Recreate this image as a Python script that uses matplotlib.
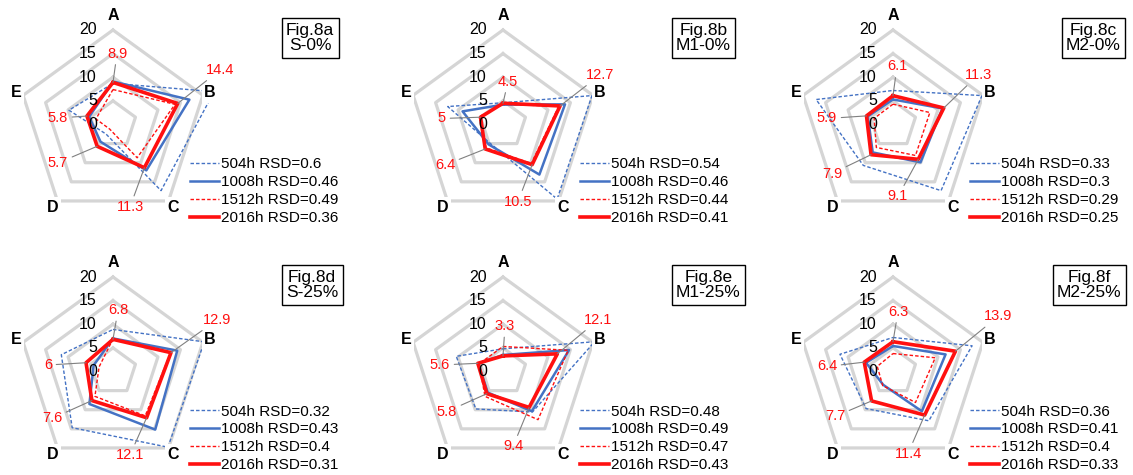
import numpy as np
import matplotlib
matplotlib.use("Agg")
import matplotlib.pyplot as plt

plt.rcParams["font.family"] = ["Liberation Sans", "DejaVu Sans"]

# categories and series
categories = ["A", "B", "C", "D", "E"]
series_names = ["504h", "1008h", "1512h", "2016h"]
ring_values = [0, 5, 10, 15, 20]

panel_titles = ["Fig.8a\nS-0%", "Fig.8b\nM1-0%", "Fig.8c\nM2-0%",
                "Fig.8d\nS-25%", "Fig.8e\nM1-25%", "Fig.8f\nM2-25%"]

# values per panel, one row per series (504h, 1008h, 1512h, 2016h), columns A..E
fig8a = [[8.7, 22.5, 17.3, 2.5, 9.8],
         [9.1, 17.0, 12.0, 4.5, 5.3],
         [7.4, 13.8, 8.7, 1.2, 3.8],
         [8.9, 14.4, 11.3, 5.7, 5.8]]
fig8b = [[4.6, 19.8, 19.5, 4.8, 12.3],
         [4.2, 13.8, 13.1, 5.2, 9.0],
         [4.3, 12.4, 10.2, 6.1, 5.3],
         [4.5, 12.7, 10.5, 6.4, 5.0]]
fig8c = [[7.2, 19.8, 17.3, 10.7, 17.1],
         [5.3, 11.0, 9.9, 7.3, 5.6],
         [4.3, 8.2, 8.1, 6.0, 4.2],
         [6.1, 11.3, 9.1, 7.9, 5.9]]
fig8d = [[8.9, 20.3, 19.8, 14.7, 11.5],
         [7.0, 14.3, 15.2, 8.5, 4.3],
         [6.9, 12.8, 11.6, 6.5, 3.1],
         [6.8, 12.9, 12.1, 7.6, 6.0]]
fig8e = [[4.8, 20.4, 10.6, 9.8, 10.4],
         [3.5, 14.7, 10.4, 5.5, 5.5],
         [5.3, 14.5, 12.6, 6.5, 5.3],
         [3.3, 12.1, 9.4, 5.8, 5.6]]
fig8f = [[7.2, 17.6, 12.9, 9.7, 11.8],
         [5.4, 11.7, 10.4, 3.5, 6.0],
         [3.8, 9.4, 8.1, 3.7, 3.5],
         [6.3, 13.9, 11.4, 7.7, 6.4]]
panel_values = [fig8a, fig8b, fig8c, fig8d, fig8e, fig8f]

rsd_values = [[0.6, 0.46, 0.49, 0.36],
              [0.54, 0.46, 0.44, 0.41],
              [0.33, 0.3, 0.29, 0.25],
              [0.32, 0.43, 0.4, 0.31],
              [0.48, 0.49, 0.47, 0.43],
              [0.36, 0.41, 0.4, 0.33]]

# layout (pixels)
W, H = 1133, 475
R_PX = 94.5
centers = [(113, 124.5), (503, 124.5), (893, 124.5),
           (113, 371.5), (503, 371.5), (893, 371.5)]
box_left = [173, 173, 173, 173, 173, 164]
# red value label offsets from chart centre (px, y down), order A..E
label_offsets = [
    [(4, -71), (107, -54.5), (17, 82.5), (-55, 38.5), (-55, -6.5)],
    [(5, -43), (97, -49.5), (15, 77), (-58, 40.5), (-61, -6)],
    [(4, -58), (85, -49.5), (5, 72), (-61, 49), (-66, -6)],
    [(5, -61.5), (104, -51.5), (17, 83.5), (-61, 47), (-65, -6.5)],
    [(2, -45.5), (95, -51.5), (10, 75), (-56, 40), (-63, -6.5)],
    [(5, -60), (105, -55), (15, 82), (-58, 45), (-66, -5)],
]

BLUE = "#4472c4"
RED = "#ff1010"
styles = [dict(color=BLUE, lw=1.0, ls=(0, (2.5, 1.5))),
          dict(color=BLUE, lw=1.8, ls="-"),
          dict(color=RED, lw=1.0, ls=(0, (2.5, 1.5))),
          dict(color=RED, lw=2.6, ls="-")]

theta = np.linspace(0, 2 * np.pi, len(categories), endpoint=False)
theta_closed = np.append(theta, theta[0])


def frac(dx, dy):
    return 0.5 + dx / (2 * R_PX), 0.5 - dy / (2 * R_PX)


fig = plt.figure(figsize=(W / 100, H / 100), dpi=100)

for i, (cx, cy) in enumerate(centers):
    ax = fig.add_axes([(cx - R_PX) / W, 1 - (cy + R_PX) / H, 2 * R_PX / W, 2 * R_PX / H],
                      projection="polar")
    ax.set_theta_offset(np.pi / 2)
    ax.set_theta_direction(-1)
    ax.set_ylim(0, 20)
    ax.set_axis_off()

    for r in ring_values[1:]:
        ax.plot(theta_closed, [r] * len(theta_closed), color="#d5d5d5", lw=2.3,
                zorder=1, clip_on=False)

    handles = []
    for k, vals in enumerate(panel_values[i]):
        v = np.append(vals, vals[0])
        line, = ax.plot(theta_closed, v, zorder=2 + k, clip_on=False,
                        label=f"{series_names[k]} RSD={rsd_values[i][k]:g}", **styles[k])
        handles.append(line)

    for r in ring_values:
        ax.annotate(str(r), xy=(0, r), xytext=(-16, 0), textcoords="offset pixels",
                    ha="right", va="center", fontsize=11.5, color="black", zorder=8,
                    annotation_clip=False)

    for j, cat in enumerate(categories):
        rr = 23 if j == 0 else 21.6
        ax.text(theta[j], rr, cat, ha="center", va="center", fontsize=11.5,
                fontweight="bold", zorder=9,
                bbox=dict(boxstyle="square,pad=0.15", fc="white", ec="none"))

    last = panel_values[i][-1]
    for j, val in enumerate(last):
        dx, dy = label_offsets[i][j]
        ax.annotate(f"{val:g}", xy=(theta[j], val), xytext=frac(dx, dy),
                    textcoords="axes fraction", ha="center", va="center",
                    fontsize=10.5, color=RED, zorder=10, annotation_clip=False,
                    arrowprops=dict(arrowstyle="-", color="#808080", lw=0.8,
                                    shrinkA=1, shrinkB=0))

    bx, by = frac(box_left[i], -86.5)
    ax.text(bx, by, panel_titles[i], transform=ax.transAxes, ha="left", va="center",
            multialignment="center", fontsize=12.5, linespacing=1.05, zorder=10,
            bbox=dict(boxstyle="square,pad=0.25", fc="white", ec="black", lw=1.0))

    lx, ly = frac(77, 33)
    ax.legend(handles=handles, loc="upper left", bbox_to_anchor=(lx, ly),
              frameon=False, fontsize=11, handlelength=1.9, handletextpad=0.12,
              labelspacing=0.26, borderpad=0, borderaxespad=0)

fig.savefig("out.png", dpi=100, facecolor="white")
